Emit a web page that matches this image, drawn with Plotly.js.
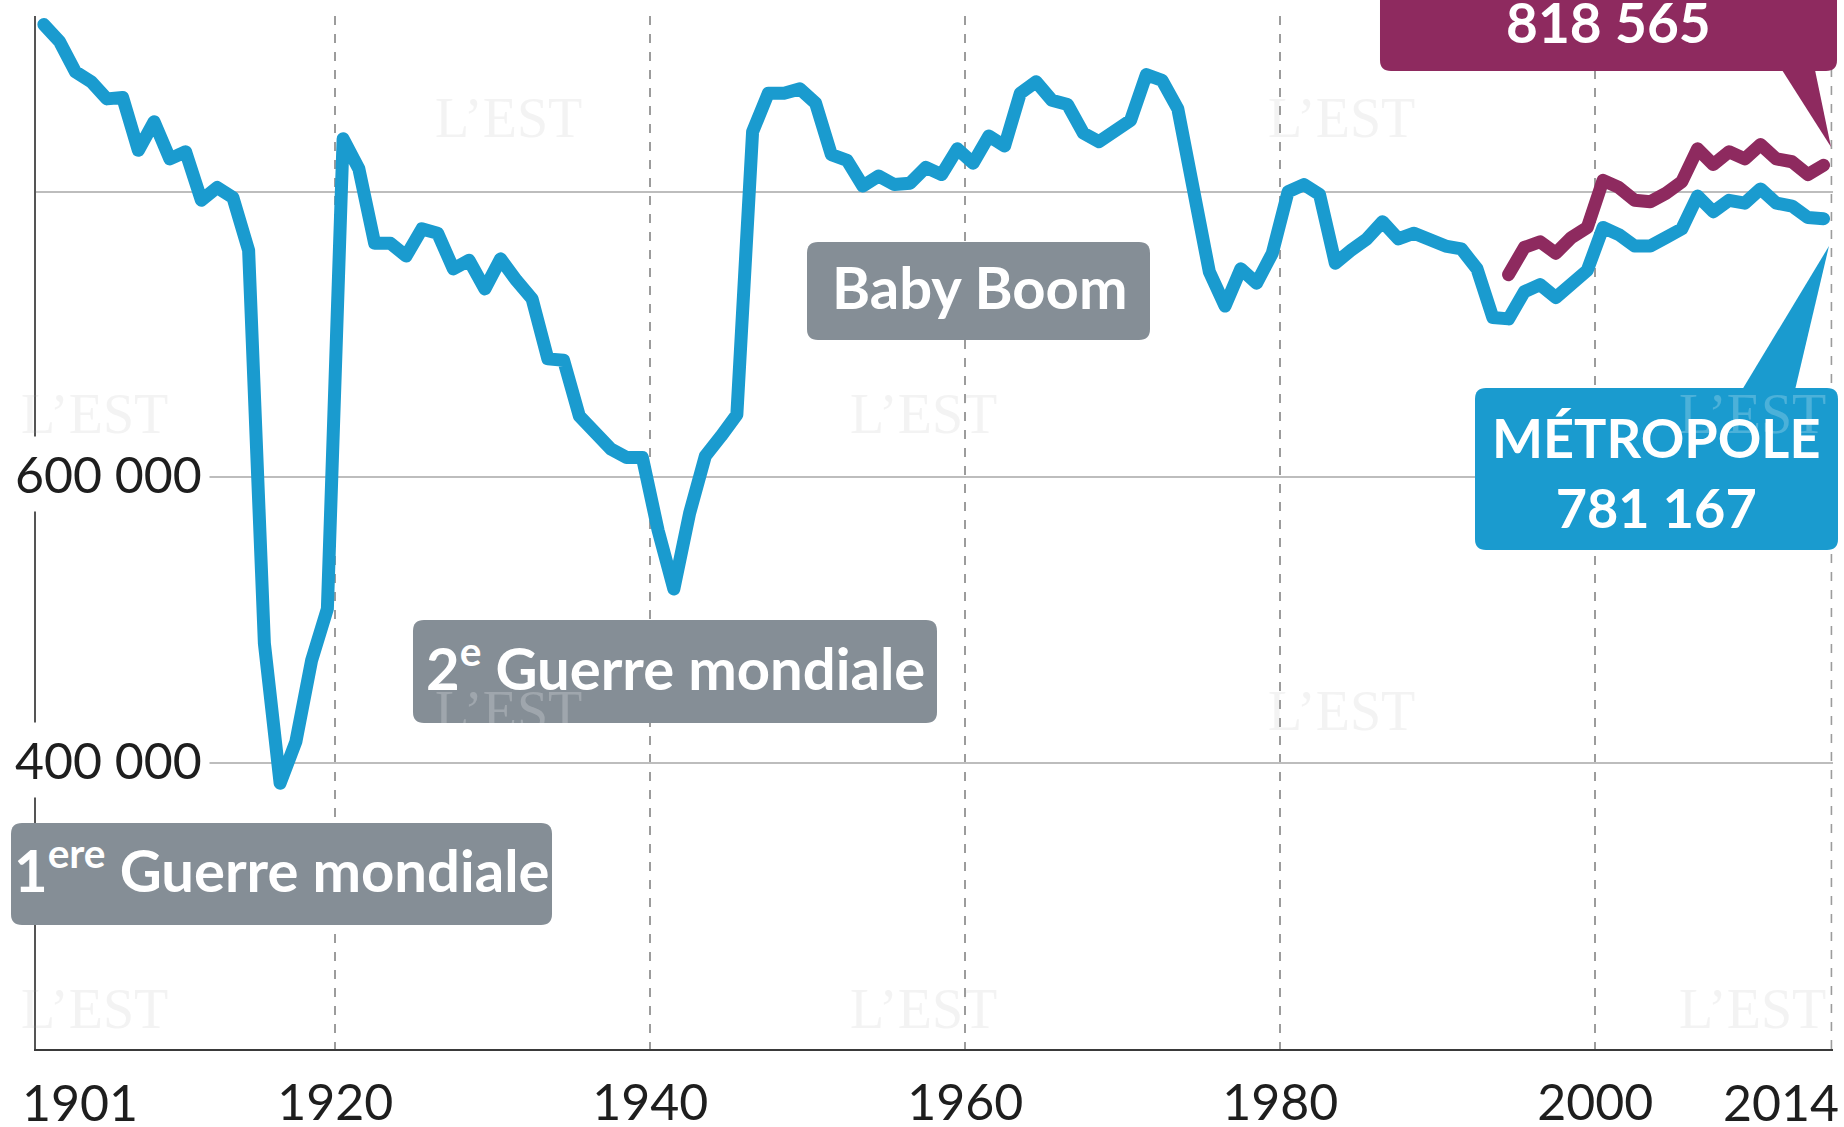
<!DOCTYPE html>
<html><head><meta charset="utf-8">
<script src="https://cdn.plot.ly/plotly-3.0.1.min.js"></script>
<style>
html,body{margin:0;padding:0;background:#fff}
#chart{width:1844px;height:1127px}
.scatterlayer .js-line{stroke-linejoin:round!important;stroke-linecap:round!important}
</style></head><body><div id="chart"></div>
<script>
// ---- DATA ----
const firstYear = 1901;
const metropole = [
  917000, 905000, 884000, 877000, 865000, 866000, 829000, 849000, 823000, 828000, // 1901-1910
  794000, 803000, 796000, 759000, 484000, 386000, 415000, 472000, 508000, 837000, // 1911-1920
  816000, 764000, 764000, 755000, 774000, 771000, 746000, 752000, 732000, 753000, // 1921-1930
  738000, 725000, 683000, 682000, 643000, 633000, 620000, 614000, 614000, 563000, // 1931-1940
  522000, 575000, 615000, 629000, 644000, 842000, 869000, 869000, 872000, 862000, // 1941-1950
  826000, 822000, 804000, 811000, 805000, 806000, 817000, 812000, 830000, 820000, // 1951-1960
  839000, 832000, 869000, 877000, 864000, 861000, 841000, 835000, 843000, 850000, // 1961-1970
  882000, 878000, 858000, 804000, 744000, 720000, 746000, 736000, 757000, 800000, // 1971-1980
  805000, 798000, 750000, 759000, 767000, 779000, 767000, 771000, 766000, 762000, // 1981-1990
  760000, 746000, 712000, 711000, 730000, 735000, 726000, 737000, 745000, 775000, // 1991-2000
  770000, 762000, 762000, 768000, 774000, 797000, 786000, 794000, 792000, 802000, // 2001-2010
  792000, 790000, 782000, 781167                                                  // 2011-2014
];
const franceFirstYear = 1994;
const franceEntiere = [
  742000, 761000, 765000, 757000, 768000, 775000, 808000,                          // 1994-2000
  803000, 794000, 793000, 799000, 807000, 830000, 819000, 828000, 823000, 833000, // 2001-2010
  823000, 821000, 812000, 818565                                                   // 2011-2014
];
const xTickYears = [1920, 1940, 1960, 1980, 2000];
const xTickText = ['1920', '1940', '1960', '1980', '2000'];
const xEndYear = 2015;
const xEdgeLabels = ['1901', '2014'];
const yGridValues = [400000, 600000, 800000];
const yTickValues = [600000, 400000];
const yTickLabels = ['600 000', '400 000'];
const labelFrance = '818 565';
const labelMetropole = 'MÉTROPOLE<br>781 167';
const labelBabyBoom = 'Baby Boom';
const labelWW2 = '2<sup>e</sup> Guerre mondiale';
const labelWW1 = '1<sup>ere</sup> Guerre mondiale';
const watermark = 'L’EST';

// ---- STYLE / LAYOUT ----
const BLUE = '#1a9bcf', PURPLE = '#8e2a5f', GREY = '#858e96';
const M = {l: 36, r: 11, t: 16, b: 78};
const FW = 1844, FH = 1127;
const PW = FW - M.l - M.r, PH = FH - M.t - M.b;
const px = x => (x - M.l) / PW;
const py = y => (FH - M.b - y) / PH;
function pt(x, y) { return px(x).toFixed(5) + ',' + py(y).toFixed(5); }
function roundRect(x0, y0, x1, y1, r) {
  return 'M' + pt(x0 + r, y0) + ' L' + pt(x1 - r, y0) + ' Q' + pt(x1, y0) + ' ' + pt(x1, y0 + r) +
    ' L' + pt(x1, y1 - r) + ' Q' + pt(x1, y1) + ' ' + pt(x1 - r, y1) +
    ' L' + pt(x0 + r, y1) + ' Q' + pt(x0, y1) + ' ' + pt(x0, y1 - r) +
    ' L' + pt(x0, y0 + r) + ' Q' + pt(x0, y0) + ' ' + pt(x0 + r, y0) + ' Z';
}
function tri(a, b, c) { return 'M' + pt(a[0], a[1]) + ' L' + pt(b[0], b[1]) + ' L' + pt(c[0], c[1]) + ' Z'; }
function shp(path, color) {
  return {type: 'path', xref: 'paper', yref: 'paper', path: path, fillcolor: color, line: {width: 0}, layer: 'above'};
}

const midYear = (start, arr) => arr.map((_, i) => start + i + 0.5);

const traces = [
  {x: midYear(firstYear, metropole), y: metropole, type: 'scatter', mode: 'lines',
   line: {color: BLUE, width: 13}, hoverinfo: 'skip'},
  {x: midYear(franceFirstYear, franceEntiere), y: franceEntiere, type: 'scatter', mode: 'lines',
   line: {color: PURPLE, width: 13}, hoverinfo: 'skip'}
];

const boldFont = {family: 'Lato, "Open Sans", sans-serif', size: 58, color: '#ffffff', weight: 700};
const numFont = Object.assign({}, boldFont, {size: 55});
const tickFont = {family: 'Lato, "DejaVu Sans", sans-serif', size: 50, color: '#1e1e1e', weight: 400};

function txt(text, x, y, font) {
  return {text: text, xref: 'paper', yref: 'paper', x: px(x), y: py(y),
    xanchor: 'center', yanchor: 'middle', showarrow: false, font: font || boldFont};
}
function wm(x, y, color) {
  return {text: watermark, xref: 'paper', yref: 'paper', x: px(x), y: py(y), xanchor: 'center', yanchor: 'middle',
    showarrow: false, font: {family: '"Liberation Serif", "DejaVu Serif", serif', size: 56, color: color}};
}

const shapes = [
  {type: 'line', xref: 'x', yref: 'paper', x0: xEndYear, x1: xEndYear, y0: 0, y1: 1,
   line: {color: '#9c9c9c', width: 1.6, dash: 'dash'}, layer: 'below'},
  shp(roundRect(807, 242, 1150, 340, 11), GREY),
  shp(roundRect(413, 620, 937, 723, 11), GREY),
  shp(roundRect(11, 823, 552, 925, 11), GREY),
  shp(roundRect(1380, -60, 1837, 71, 11), PURPLE),
  shp(tri([1782, 70], [1815, 70], [1831, 147]), PURPLE),
  shp(roundRect(1475, 388, 1838, 550, 11), BLUE),
  shp(tri([1742, 390], [1795, 390], [1829, 246]), BLUE)
];

const wmGrey = 'rgba(160,160,160,0.13)', wmLight = 'rgba(255,255,255,0.22)';
const annotations = [
  wm(508, 118, wmGrey), wm(1341, 118, wmGrey),
  wm(94, 414, wmGrey), wm(923, 414, wmGrey), wm(1752, 414, wmLight),
  wm(508, 711, wmLight), wm(1341, 711, wmGrey),
  wm(94, 1009, wmGrey), wm(923, 1009, wmGrey), wm(1752, 1009, wmGrey),
  txt(labelBabyBoom, 979, 286),
  txt(labelWW2, 675, 664),
  txt(labelWW1, 282, 866),
  txt(labelFrance, 1608, 22, numFont),
  txt(labelMetropole, 1656, 472, Object.assign({}, boldFont, {size: 54})),
  {text: xEdgeLabels[0], xref: 'paper', yref: 'paper', x: px(20), y: py(1102), xanchor: 'left', yanchor: 'middle',
   height: 46, valign: 'middle', showarrow: false, font: tickFont},
  {text: xEdgeLabels[1], xref: 'paper', yref: 'paper', x: px(1841), y: py(1102), xanchor: 'right', yanchor: 'middle',
   height: 46, valign: 'middle', showarrow: false, font: tickFont}
];
yTickValues.forEach((v, i) => annotations.push({
  text: yTickLabels[i], xref: 'paper', yref: 'y', x: px(210), y: v, xanchor: 'right', yanchor: 'middle',
  yshift: 3, showarrow: false, font: tickFont, bgcolor: '#ffffff', borderpad: 7
}));

const layout = {
  width: FW, height: FH, margin: M, paper_bgcolor: '#fff', plot_bgcolor: '#fff', showlegend: false,
  xaxis: {range: [1901, 2015.1], tickvals: xTickYears, ticktext: xTickText, showgrid: true, griddash: 'dash',
    gridcolor: '#9c9c9c', gridwidth: 1.6, zeroline: false, showline: true, linecolor: '#3a3a3a', linewidth: 2,
    ticks: '', tickfont: tickFont, ticklabelstandoff: 9, fixedrange: true},
  yaxis: {range: [200000, 923000], tickvals: yGridValues, showticklabels: false, showgrid: true,
    gridcolor: '#bdbdbd', gridwidth: 2, zeroline: false, showline: true, linecolor: '#555', linewidth: 2,
    ticks: '', fixedrange: true},
  shapes: shapes,
  annotations: annotations
};

Plotly.newPlot('chart', traces, layout, {staticPlot: true, displayModeBar: false});
</script></body></html>
